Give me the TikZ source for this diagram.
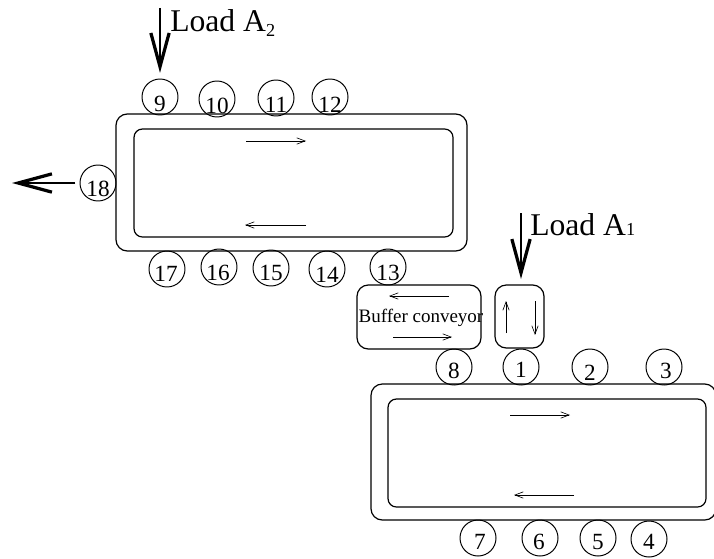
\documentclass[tikz,border=0pt]{standalone}
\usepackage{fontspec}
\setmainfont{Liberation Serif}
\usetikzlibrary{arrows.meta}
\tikzset{
	station/.style={draw, circle, line width=0.7pt, minimum size=25.6pt, inner sep=0pt},
	stationtext/.style={inner sep=0pt, font=\fontsize{16.5}{16.5}\selectfont},
	belt/.style={draw, line width=0.85pt, rounded corners=8pt},
	beltinner/.style={draw, line width=0.85pt, rounded corners=6pt},
	flow/.style={line width=0.45pt, -{Straight Barb[length=6pt, width=4.5pt]}},
	heavyflow/.style={line width=2.1pt, -{Straight Barb[length=24pt, width=13pt, line width=2.3pt]}},
	loadtext/.style={anchor=base west, inner sep=0pt, font=\fontsize{22.5}{22.5}\selectfont}
}
\begin{document}
\begin{tikzpicture}[x=0.025cm, y=-0.025cm]
\useasboundingbox (0,0) rectangle (714,558);

% conveyors
\draw[belt] (116,114) rectangle (467,251);
\draw[beltinner] (134,129) rectangle (453,237);
\draw[belt] (371,384) rectangle (716,520);
\draw[beltinner] (388,399) rectangle (706,507);
\draw[belt] (357,285) rectangle (481,349);
\draw[belt] (495,285) rectangle (544,348);

% stations: number / circle / text
\foreach \n/\x/\y/\lx/\ly in {
	1/521/367/521/370, 2/590/367/590/373, 3/664/367/666/371,
	4/649/539/649/542, 5/598/538/598/542, 6/540/538/539/542,
	7/478/538/480/542, 8/454/367/454/371, 9/160/97/160/104,
	10/217/99/217/106, 11/276/98/276/105, 12/330/97/330/105,
	13/388/267/388/273, 14/327/269/327/275, 15/271/268/271/273,
	16/219/267/218/273, 17/167/269/166/274, 18/98/183/98/189}{
	\node[station] (s\n) at (\x,\y) {};
	\node[stationtext] (t\n) at (\lx,\ly) {\n};
}

\node[inner sep=0pt, font=\fontsize{13.5}{13.5}\selectfont] (buffer) at (421,318) {Buffer conveyor};

\node[loadtext] (loadtwo) at (170,32) {Load A\raisebox{-3.5pt}{\fontsize{13}{13}\selectfont 2}};
\node[loadtext] (loadone) at (530,235) {Load A{\fontsize{13}{13}\selectfont 1}};

% free ends
\coordinate (intwo) at (160,8);
\coordinate (inone) at (521,213);
\coordinate (outtwo) at (12,183);

\draw[heavyflow, shorten >=4pt] (intwo) -- (s9);
\draw[heavyflow] (inone) -- (521,279);
\draw[heavyflow, shorten <=3pt] (s18) -- (outtwo);

% direction of travel
\foreach \a/\b/\c/\d in {
	246/141/306/141, 306/225/245/225, 449/296/389/296, 393/337/452/337,
	506/333/506/301, 535/301/535/335, 510/415/570/415, 574/495/514/495}{
	\coordinate (from) at (\a,\b);
	\coordinate (to) at (\c,\d);
	\draw[flow] (from) -- (to);
}
\end{tikzpicture}
\end{document}
